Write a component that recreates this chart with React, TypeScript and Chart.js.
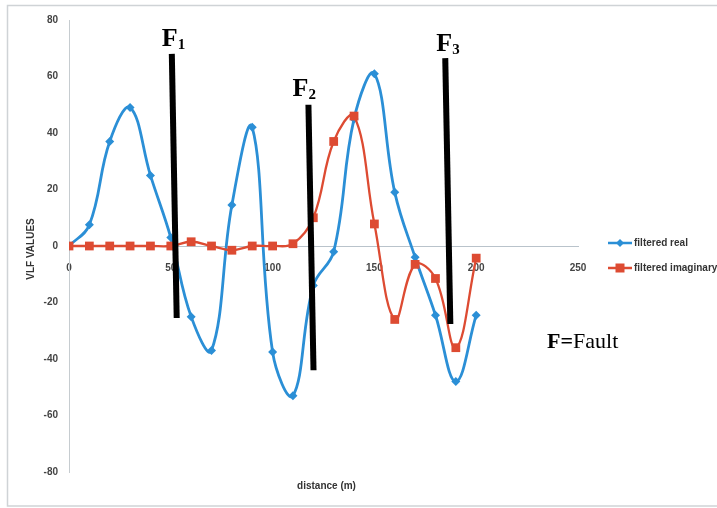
import React, { useEffect, useRef } from 'react';
import { Chart, registerables } from 'chart.js';

Chart.register(...registerables);

const distances = [0, 10, 20, 30, 40, 50, 60, 70, 80, 90, 100, 110, 120, 130, 140, 150, 160, 170, 180, 190, 200];
const filteredReal = [0, 7.5, 37, 49, 25, 3, -25, -37, 14.5, 42, -37.5, -53, -14, -2, 45, 61, 19, -4, -24.5, -48, -24.5];
const filteredImaginary = [0, 0, 0, 0, 0, 0, 1.5, 0, -1.5, 0, 0, 0.8, 10, 37, 46, 7.8, -26, -6.5, -11.5, -36, -4.3];

const seriesNames = ['filtered real', 'filtered imaginary'];
const seriesColors = ['#2b8fd6', '#dd4b32'];

const faultIds = ['1', '2', '3'];
const faultTopX = [50.5, 117.6, 184.8];
const faultTopY = [68, 50, 66.5];
const faultBottomX = [52.9, 120.1, 187.3];
const faultBottomY = [-25.5, -44, -27.6];
const faultLabelX = [45.6, 109.8, 180.4];
const faultLabelY = [70.8, 53.1, 69];

const xMin = 0, xMax = 250, xStep = 50;
const yMin = -80, yMax = 80, yStep = 20;

const xTitle = 'distance (m)';
const yTitle = 'VLF VALUES';
const noteBold = 'F=';
const noteText = 'Fault';
const noteX = 234.8;
const noteY = -36.1;

function drawMarker(ctx: CanvasRenderingContext2D, kind: string, x: number, y: number, color: string) {
  ctx.save();
  ctx.fillStyle = color;
  ctx.beginPath();
  if (kind === 'diamond') {
    ctx.moveTo(x, y - 4);
    ctx.lineTo(x + 4, y);
    ctx.lineTo(x, y + 4);
    ctx.lineTo(x - 4, y);
    ctx.closePath();
  } else {
    ctx.rect(x - 4.5, y - 4.5, 9, 9);
  }
  ctx.fill();
  ctx.restore();
}

const decorPlugin = {
  id: 'decor',
  beforeDraw(chart: any) {
    const ctx = chart.ctx as CanvasRenderingContext2D;
    ctx.save();
    ctx.fillStyle = '#ffffff';
    ctx.fillRect(0, 0, chart.width, chart.height);
    ctx.strokeStyle = '#cfd3d6';
    ctx.lineWidth = 1.5;
    ctx.beginPath();
    ctx.moveTo(chart.width, 5.5);
    ctx.lineTo(7.5, 5.5);
    ctx.lineTo(7.5, 506);
    ctx.lineTo(chart.width, 506);
    ctx.stroke();
    ctx.restore();
  },
  afterDraw(chart: any) {
    const ctx = chart.ctx as CanvasRenderingContext2D;
    const xs = chart.scales.x;
    const ys = chart.scales.y;
    const area = chart.chartArea;
    ctx.save();
    // y title
    ctx.fillStyle = '#333';
    ctx.font = 'bold 10px "Liberation Sans", Arial, sans-serif';
    ctx.textAlign = 'center';
    ctx.textBaseline = 'middle';
    ctx.save();
    ctx.translate(31, (area.top + area.bottom) / 2 + 3);
    ctx.rotate(-Math.PI / 2);
    ctx.fillText(yTitle, 0, 0);
    ctx.restore();
    // x title
    ctx.fillText(xTitle, (area.left + area.right) / 2 + 3, 486);

    // legend
    const legendY = [243, 268];
    const kinds = ['diamond', 'square'];
    for (let i = 0; i < seriesNames.length; i++) {
      ctx.strokeStyle = seriesColors[i];
      ctx.lineWidth = 2.5;
      ctx.beginPath();
      ctx.moveTo(608, legendY[i]);
      ctx.lineTo(632, legendY[i]);
      ctx.stroke();
      drawMarker(ctx, kinds[i], 620, legendY[i], seriesColors[i]);
      ctx.fillStyle = '#333';
      ctx.textAlign = 'left';
      ctx.textBaseline = 'middle';
      ctx.font = 'bold 10px "Liberation Sans", Arial, sans-serif';
      ctx.fillText(seriesNames[i], 634, legendY[i]);
    }

    // fault labels
    ctx.fillStyle = '#000';
    ctx.textBaseline = 'alphabetic';
    ctx.textAlign = 'left';
    for (let i = 0; i < faultIds.length; i++) {
      const px = xs.getPixelForValue(faultLabelX[i]);
      const py = ys.getPixelForValue(faultLabelY[i]);
      ctx.font = 'bold 26px "Liberation Serif", "Times New Roman", serif';
      ctx.fillText('F', px, py);
      const w = ctx.measureText('F').width;
      ctx.font = 'bold 15px "Liberation Serif", "Times New Roman", serif';
      ctx.fillText(faultIds[i], px + w, py + 3);
    }

    // note
    const nx = xs.getPixelForValue(noteX);
    const ny = ys.getPixelForValue(noteY);
    ctx.font = 'bold 22px "Liberation Serif", "Times New Roman", serif';
    ctx.fillText(noteBold, nx, ny);
    const bw = ctx.measureText(noteBold).width;
    ctx.font = '22px "Liberation Serif", "Times New Roman", serif';
    ctx.fillText(noteText, nx + bw, ny);
    ctx.restore();
  },
};

export default function App() {
  const canvasRef = useRef<HTMLCanvasElement | null>(null);

  useEffect(() => {
    if (!canvasRef.current) return;
    const realPts = distances.map((d, i) => ({ x: d, y: filteredReal[i] }));
    const imagPts = distances.map((d, i) => ({ x: d, y: filteredImaginary[i] }));
    const faultSets = faultIds.map((id, i) => ({
      label: 'F' + id,
      data: [
        { x: faultTopX[i], y: faultTopY[i] },
        { x: faultBottomX[i], y: faultBottomY[i] },
      ],
      borderColor: '#000',
      backgroundColor: '#000',
      borderWidth: 6,
      pointRadius: 0,
      tension: 0,
      order: -1,
      borderCapStyle: 'butt' as const,
    }));

    const chart = new Chart(canvasRef.current, {
      type: 'line',
      data: {
        datasets: [
          {
            label: seriesNames[0],
            data: realPts,
            borderColor: seriesColors[0],
            backgroundColor: seriesColors[0],
            borderWidth: 2.8,
            pointStyle: 'rectRot',
            pointRadius: 4.5,
            pointBorderWidth: 0,
            tension: 0.4,
            order: 1,
          },
          {
            label: seriesNames[1],
            data: imagPts,
            borderColor: seriesColors[1],
            backgroundColor: seriesColors[1],
            borderWidth: 2.3,
            pointStyle: 'rect',
            pointRadius: 6.2,
            pointBorderWidth: 0,
            tension: 0.4,
            order: 0,
          },
          ...faultSets,
        ],
      },
      options: {
        responsive: false,
        devicePixelRatio: 1,
        animation: false,
        layout: { padding: { left: 0, right: 139, top: 20, bottom: 36 } },
        plugins: {
          legend: { display: false },
          tooltip: { enabled: false },
          title: { display: false },
        },
        scales: {
          x: {
            type: 'linear',
            position: { y: 0 } as any,
            min: xMin,
            max: xMax,
            ticks: {
              stepSize: xStep,
              padding: 16,
              color: '#444',
              font: { family: '"Liberation Sans", Arial, sans-serif', size: 10, weight: 'bold' },
              maxRotation: 0,
            },
            grid: { display: false, drawTicks: false },
            border: { display: true, color: '#b9c3cb', width: 1 },
          },
          y: {
            type: 'linear',
            position: 'left',
            min: yMin,
            max: yMax,
            afterFit: (scale: any) => {
              scale.width = 69;
            },
            ticks: {
              stepSize: yStep,
              padding: 11,
              color: '#444',
              font: { family: '"Liberation Sans", Arial, sans-serif', size: 10, weight: 'bold' },
            },
            grid: { display: false, drawTicks: false },
            border: { display: true, color: '#c6ccd0', width: 1 },
          },
        },
      },
      plugins: [decorPlugin],
    });
    return () => chart.destroy();
  }, []);

  return (
    <div style={{ position: 'fixed', left: 0, top: 0, width: 717, height: 508, background: '#fff' }}>
      <canvas ref={canvasRef} width={717} height={508} style={{ display: 'block' }} />
    </div>
  );
}
